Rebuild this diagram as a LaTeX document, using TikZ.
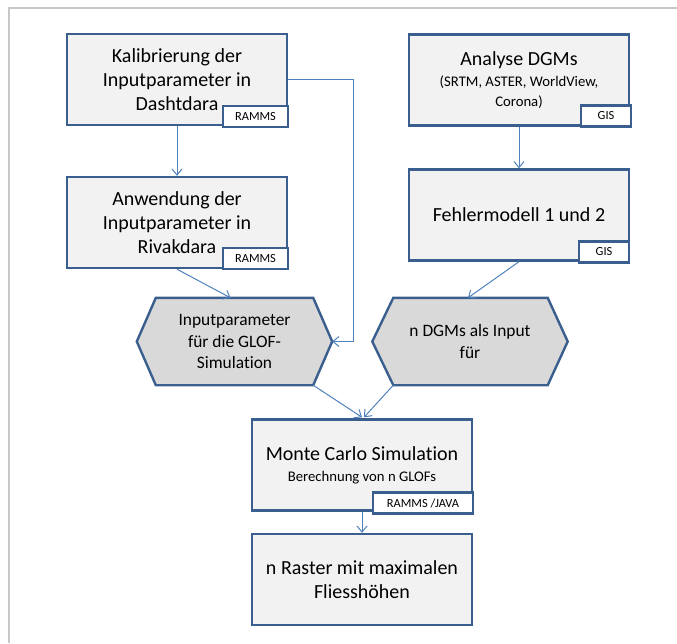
\documentclass[tikz,border=0pt]{standalone}
\usepackage{fontspec}
\setmainfont{Carlito}[Ligatures=NoCommon]
\usetikzlibrary{arrows.meta,backgrounds,positioning}
\definecolor{boxborder}{HTML}{3A5F8E}
\definecolor{boxfill}{HTML}{F2F2F2}
\definecolor{hexfill}{HTML}{D9D9D9}
\definecolor{conn}{HTML}{4F81BD}
\definecolor{frame}{HTML}{C8C8C8}
\newcommand{\subtxt}{\fontsize{14.7}{18}\selectfont}
\tikzset{
  procbox/.style={draw=boxborder, line width=2.4pt, fill=boxfill, minimum width=220pt, minimum height=91pt, inner sep=0pt, align=center, font=\fontsize{20}{24}\selectfont},
  tagbox/.style={draw=boxborder, line width=2.4pt, fill=white, minimum height=21pt, inner sep=0pt, font=\fontsize{12.4}{14}\selectfont},
  hexnode/.style={minimum width=195pt, minimum height=87pt, inner sep=0pt, align=center, font=\fontsize{17.4}{21.5}\selectfont},
  hexline/.style={draw=boxborder, line width=2.4pt, fill=hexfill, line join=miter},
  conn/.style={draw=conn, line width=1pt, -{Straight Barb[length=6pt,width=10pt,line width=1pt]}}
}
\begin{document}
\begin{tikzpicture}[x=1pt,y=-1pt]
\useasboundingbox (0,0) rectangle (677,643);
\draw[frame, line width=1.5pt] (9,643) -- (9,8) -- (677,8);

% boxes
\node[procbox] (b1) at (177,79.5) {Kalibrierung der\\Inputparameter in\\Dashtdara};
\node[procbox] (b2) at (177,222.5) {Anwendung der\\Inputparameter in\\Rivakdara};
\node[procbox] (b3) at (519,80) {Analyse DGMs\\[-3pt]{\subtxt (SRTM, ASTER, WorldView,}\\[-4pt]{\subtxt Corona)}};
\node[procbox] (b4) at (519,215) {Fehlermodell 1 und 2};
\node[procbox] (b5) at (362,465) {Monte Carlo Simulation\\[-3pt]{\subtxt Berechnung von n GLOFs}};
\node[procbox] (b6) at (362,579.5) {n Raster mit maximalen\\Fliessh\"ohen};

% tags
\node[tagbox, minimum width=65pt, anchor=south east] (t1) at ([xshift=1pt,yshift=-2pt]b1.south east) {RAMMS};
\node[tagbox, minimum width=65pt, anchor=south east] (t2) at ([xshift=1pt,yshift=-1pt]b2.south east) {RAMMS};
\node[tagbox, minimum width=50pt, anchor=south east] (t3) at ([xshift=2pt,yshift=-1pt]b3.south east) {GIS};
\node[tagbox, minimum width=50pt, anchor=south east] (t4) at ([xshift=0pt,yshift=-2pt]b4.south east) {GIS};
\node[tagbox, minimum width=100pt, anchor=south east] (t5) at ([xshift=1pt,yshift=-3pt]b5.south east) {RAMMS /JAVA};

% hexagons
\node[hexnode] (h1) at (234.5,341.5) {Inputparameter\\f\"ur die GLOF-\\Simulation};
\node[hexnode] (h2) at (470,341.5) {n DGMs als Input\\f\"ur};
\begin{scope}[on background layer]
\path[hexline] (h1.west) -- ([xshift=19pt]h1.north west) -- ([xshift=-19pt]h1.north east) -- (h1.east) -- ([xshift=-19pt]h1.south east) -- ([xshift=19pt]h1.south west) -- cycle;
\path[hexline] (h2.west) -- ([xshift=21pt]h2.north west) -- ([xshift=-20pt]h2.north east) -- (h2.east) -- ([xshift=-20pt]h2.south east) -- ([xshift=21pt]h2.south west) -- cycle;
\end{scope}

% connectors
\draw[conn] (b1.south) -- (b2.north);
\draw[conn] (b1.east) -| ([xshift=21pt]h1.east) -- (h1.east);
\draw[conn] (b2.south) -- ([xshift=-4pt]h1.north);
\draw[conn] (b3.south) -- (b4.north);
\draw[conn] (b4.south) -- ([xshift=-2pt]h2.north);
\draw[conn] ([xshift=-19pt]h1.south east) -- ([yshift=1pt]b5.north);
\draw[conn] ([xshift=21pt]h2.south west) -- ([xshift=2pt,yshift=1pt]b5.north);
\draw[conn] (b5.south) -- (b6.north);
\end{tikzpicture}
\end{document}
